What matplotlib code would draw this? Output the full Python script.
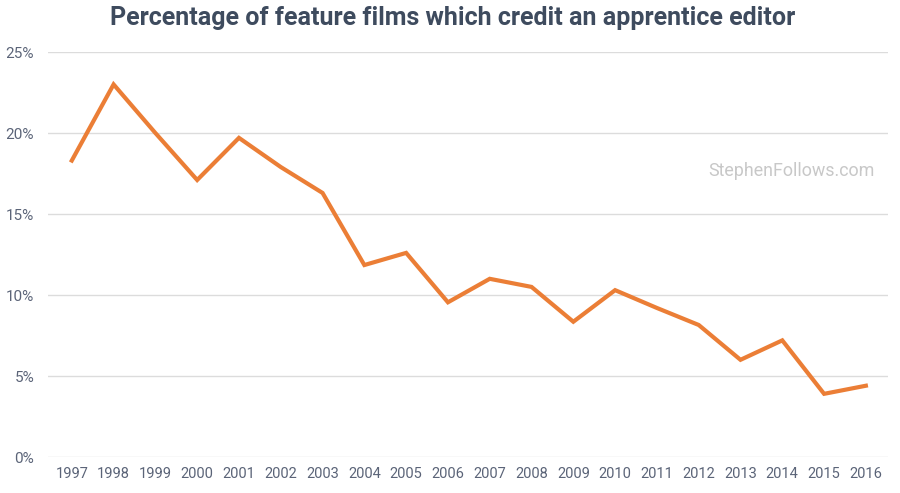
import numpy as np
import matplotlib.pyplot as plt

# data
years = list(range(1997, 2017))
pct = [18.3, 23.0, 20.0, 17.1, 19.7, 17.9, 16.3, 11.85, 12.6, 9.55,
       11.0, 10.5, 8.35, 10.3, 9.2, 8.15, 6.0, 7.2, 3.9, 4.4]
y_ticks = [0, 5, 10, 15, 20, 25]

plt.rcParams['font.family'] = ['Roboto', 'DejaVu Sans']

fig = plt.figure(figsize=(9, 4.93), dpi=100)
ax = fig.add_axes([0.0533, 0.073, 0.9334, 0.8215])

ax.plot(years, pct, color='#eb7e36', lw=3.0, solid_joinstyle='miter')

ax.set_xlim(1996.43, 2016.53)
ax.set_ylim(0, 25)
ax.set_xticks(years)
ax.set_yticks(y_ticks)
ax.set_yticklabels([str(v) + '%' for v in y_ticks])
ax.tick_params(length=0, colors='#5b6478', labelsize=10.5)
ax.tick_params(axis='y', pad=10, labelsize=11)
ax.tick_params(axis='x', pad=7)
ax.grid(axis='y', color='#dcdcdc', lw=1)
ax.set_axisbelow(True)
for s in ax.spines.values():
    s.set_visible(False)

fig.text(0.503, 0.963, 'Percentage of feature films which credit an apprentice editor',
         ha='center', va='center', fontsize=18, fontweight='bold', color='#3e4b5e')
ax.text(0.8845, 0.706, 'StephenFollows.com', transform=ax.transAxes,
        ha='center', va='center', fontsize=12.9, color='#c8c8c8')

plt.savefig('out.png', dpi=100)
plt.close()
